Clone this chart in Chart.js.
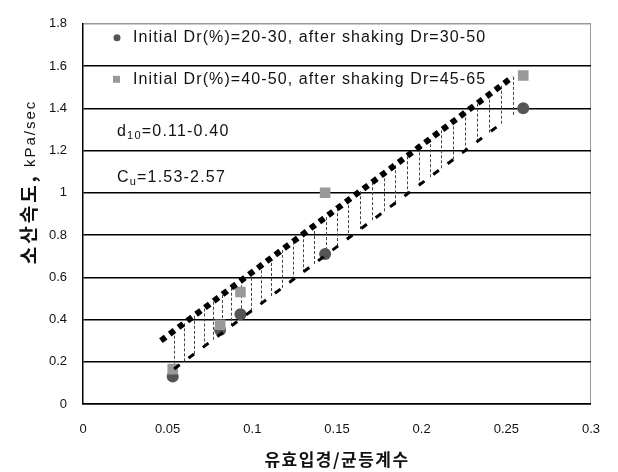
<!DOCTYPE html>
<html>
<head>
<meta charset="utf-8">
<script src="https://cdn.jsdelivr.net/npm/chart.js@4.4.1/dist/chart.umd.min.js"></script>
<style>
    html, body { margin: 0; padding: 0; background: #fff; }
    #wrap { width: 618px; height: 472px; }
</style>
</head>
<body>
<div id="wrap"><canvas id="chart" width="618" height="472"></canvas></div>
<script>
// Data
const xTicks = [0, 0.05, 0.1, 0.15, 0.2, 0.25, 0.3];
const xTickLabels = ['0', '0.05', '0.1', '0.15', '0.2', '0.25', '0.3'];
const yTicks = [0, 0.2, 0.4, 0.6, 0.8, 1, 1.2, 1.4, 1.6, 1.8];
const yTickLabels = ['0', '0.2', '0.4', '0.6', '0.8', '1', '1.2', '1.4', '1.6', '1.8'];

// Initial Dr 20-30 (circles)
const looseX = [0.053, 0.081, 0.093, 0.143, 0.260];
const looseY = [0.13, 0.35, 0.425, 0.71, 1.40];
// Initial Dr 40-50 (squares)
const denseX = [0.053, 0.081, 0.093, 0.143, 0.260];
const denseY = [0.165, 0.375, 0.53, 1.0, 1.555];

// trend lines (end points)
const upperLineX = [0.046, 0.254];
const upperLineY = [0.30, 1.55];
const lowerLineX = [0.0538, 0.249];
const lowerLineY = [0.166, 1.34];

// x positions of the thin drop lines between the two trend lines
const dropX = [0.0538, 0.0596, 0.0655, 0.0713, 0.0766, 0.0819, 0.0877, 0.0936, 0.0994,
    0.1053, 0.1111, 0.1175, 0.1240, 0.1298, 0.1363, 0.1433, 0.1503, 0.1567, 0.1637,
    0.1708, 0.1778, 0.1842, 0.1912, 0.1982, 0.2047, 0.2117, 0.2187, 0.2257, 0.2327,
    0.2398, 0.2468, 0.2538];

const legendLines = [
    'Initial Dr(%)=20-30, after shaking Dr=30-50',
    'Initial Dr(%)=40-50, after shaking Dr=45-65'
];
const yTitleMain = '소산속도,';
const yTitleUnit = ' kPa/sec';
const xTitle = '유효입경/균등계수';

const LATIN = '"Liberation Sans", Arial, sans-serif';
const KOREAN = '"Noto Sans CJK KR", sans-serif';

function toPoints(xs, ys) {
    return xs.map((x, i) => ({ x: x, y: ys[i] }));
}

function lineAt(xs, ys, x) {
    const t = (x - xs[0]) / (xs[1] - xs[0]);
    return ys[0] + t * (ys[1] - ys[0]);
}

// thin dashed verticals between the two fitted lines
const dropLines = {
    id: 'dropLines',
    beforeDatasetsDraw(chart) {
        const ctx = chart.ctx;
        const xs = chart.scales.x, ys = chart.scales.y;
        ctx.save();
        ctx.strokeStyle = '#444';
        ctx.lineWidth = 1;
        ctx.setLineDash([3, 2]);
        dropX.forEach(x => {
            const px = Math.round(xs.getPixelForValue(x)) + 0.5;
            const top = ys.getPixelForValue(lineAt(upperLineX, upperLineY, x));
            const bot = ys.getPixelForValue(lineAt(lowerLineX, lowerLineY, x));
            ctx.beginPath();
            ctx.moveTo(px, top);
            ctx.lineTo(px, bot);
            ctx.stroke();
        });
        ctx.restore();
    }
};

// draws a run of [text, font, dy] pieces one after another
function drawRun(ctx, pieces, x, y, spacing) {
    pieces.forEach(p => {
        ctx.font = p[1];
        ctx.letterSpacing = spacing;
        ctx.fillText(p[0], x, y + (p[2] || 0));
        x += ctx.measureText(p[0]).width;
    });
    return x;
}

// legend / notes inside the plot and the mixed-font axis titles
const notes = {
    id: 'notes',
    afterDraw(chart) {
        const ctx = chart.ctx;
        const a = chart.chartArea;
        ctx.save();
        ctx.textBaseline = 'middle';
        ctx.textAlign = 'left';
        const tx = a.left + 50;
        const big = '16px ' + LATIN;
        const sub = '11px ' + LATIN;

        // marker for series 1
        ctx.fillStyle = '#555';
        ctx.beginPath();
        ctx.arc(a.left + 34, a.top + 14, 3.5, 0, Math.PI * 2);
        ctx.fill();
        // marker for series 2
        ctx.fillStyle = '#999';
        ctx.fillRect(a.left + 30, a.top + 52, 7, 7);

        ctx.fillStyle = '#111';
        drawRun(ctx, [[legendLines[0], big]], tx, a.top + 14, '1.1px');
        drawRun(ctx, [[legendLines[1], big]], tx, a.top + 56, '1.1px');
        drawRun(ctx, [['d', big], ['10', sub, 4], ['=0.11-0.40', big]], a.left + 34, a.top + 108, '1.2px');
        drawRun(ctx, [['C', big], ['u', sub, 4], ['=1.53-2.57', big]], a.left + 34, a.top + 154, '1.2px');

        // x title
        ctx.textAlign = 'center';
        ctx.font = 'bold 17px ' + KOREAN;
        ctx.letterSpacing = '1.5px';
        ctx.fillText(xTitle, (a.left + a.right) / 2, 460);

        // y title, rotated, two fonts, sharing one baseline
        ctx.textAlign = 'left';
        ctx.textBaseline = 'alphabetic';
        ctx.translate(36, 182);
        ctx.rotate(-Math.PI / 2);
        const kFont = 'bold 19px ' + KOREAN;
        const uFont = '15px ' + LATIN;
        ctx.font = kFont;
        ctx.letterSpacing = '3px';
        const w1 = ctx.measureText(yTitleMain).width;
        ctx.font = uFont;
        ctx.letterSpacing = '2px';
        const w2 = ctx.measureText(yTitleUnit).width;
        const sx = -(w1 + w2) / 2;
        drawRun(ctx, [[yTitleMain, kFont]], sx, 0, '3px');
        drawRun(ctx, [[yTitleUnit, uFont]], sx + w1, -1, '2px');
        ctx.restore();
    }
};

new Chart(document.getElementById('chart'), {
    type: 'scatter',
    data: {
        datasets: [
            {
                type: 'line',
                label: 'upper',
                data: toPoints(upperLineX, upperLineY),
                borderColor: '#000',
                borderWidth: 6,
                borderDash: [6, 5],
                pointRadius: 0,
                fill: false
            },
            {
                type: 'line',
                label: 'lower',
                data: toPoints(lowerLineX, lowerLineY),
                borderColor: '#000',
                borderWidth: 3,
                borderDash: [7, 11],
                pointRadius: 0,
                fill: false
            },
            {
                label: 'Initial Dr(%)=40-50',
                data: toPoints(denseX, denseY),
                pointStyle: 'rect',
                pointRadius: 7.5,
                backgroundColor: '#999',
                borderWidth: 0
            },
            {
                label: 'Initial Dr(%)=20-30',
                data: toPoints(looseX, looseY),
                pointStyle: 'circle',
                pointRadius: 6,
                backgroundColor: '#555',
                borderWidth: 0
            }
        ]
    },
    options: {
        responsive: false,
        animation: false,
        layout: { padding: { left: 0, right: 22, top: 14, bottom: 0 } },
        plugins: {
            legend: { display: false },
            tooltip: { enabled: false }
        },
        scales: {
            x: {
                type: 'linear',
                min: 0,
                max: 0.3,
                afterBuildTicks: s => { s.ticks = xTicks.map(v => ({ value: v })); },
                afterFit: s => { s.height = 68; },
                ticks: {
                    padding: 18,
                    color: '#111',
                    font: { family: LATIN, size: 13 },
                    callback: (v, i) => xTickLabels[i]
                },
                grid: {
                    drawTicks: false,
                    color: ctx => (ctx.tick && ctx.tick.value === 0.3) ? '#999' : 'rgba(0,0,0,0)',
                    lineWidth: 1
                },
                border: { color: '#000', width: 1.5 }
            },
            y: {
                type: 'linear',
                min: 0,
                max: 1.8,
                afterBuildTicks: s => { s.ticks = yTicks.map(v => ({ value: v })); },
                afterFit: s => { s.width = 83; },
                ticks: {
                    padding: 16,
                    color: '#111',
                    font: { family: LATIN, size: 13 },
                    callback: (v, i) => yTickLabels[i]
                },
                grid: {
                    drawTicks: false,
                    color: ctx => (ctx.tick && ctx.tick.value === 1.8) ? '#999' : '#000',
                    lineWidth: 1.5
                },
                border: { color: '#000', width: 1.5 }
            }
        }
    },
    plugins: [dropLines, notes]
});
</script>
</body>
</html>
